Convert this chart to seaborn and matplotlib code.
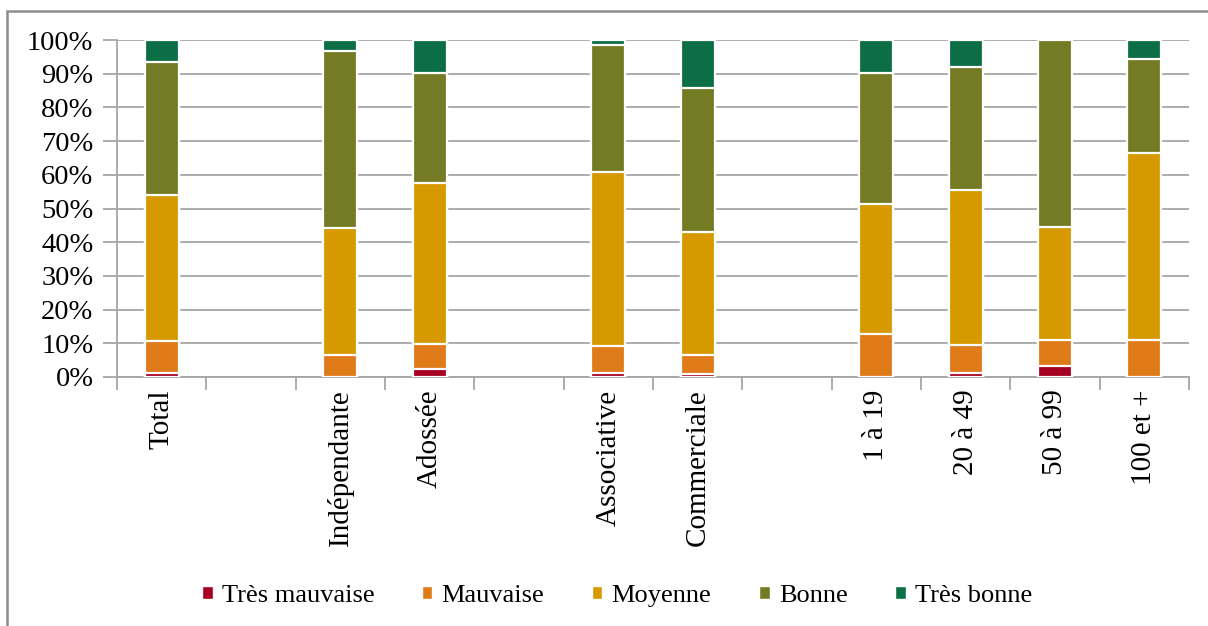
import matplotlib
matplotlib.use("Agg")
import matplotlib.pyplot as plt
from matplotlib.patches import Rectangle, Patch
from matplotlib.ticker import FixedLocator, PercentFormatter
import numpy as np
import pandas as pd
import seaborn as sns

# Categories (blank entries separate the groups on the axis)
categories = ["Total", " ", "Indépendante", "Adossée", "  ",
              "Associative", "Commerciale", "   ",
              "1 à 19", "20 à 49", "50 à 99", "100 et +"]

series = ["Très mauvaise", "Mauvaise", "Moyenne", "Bonne", "Très bonne"]

# Shares in percent, one list per rating, aligned with `categories`
nan = np.nan
tres_mauvaise = [1.3, nan, 0.0, 2.5, nan, 1.2, 1.0, nan, 0.0, 1.3, 3.3, 0.0]
mauvaise      = [9.3, nan, 6.6, 7.2, nan, 8.1, 5.6, nan, 12.9, 8.1, 7.6, 10.9]
moyenne       = [43.3, nan, 37.5, 48.0, nan, 51.4, 36.3, nan, 38.4, 46.0, 33.5, 55.6]
bonne         = [39.7, nan, 52.5, 32.4, nan, 37.8, 43.0, nan, 38.8, 36.7, 55.6, 27.8]
tres_bonne    = [6.4, nan, 3.4, 9.9, nan, 1.5, 14.1, nan, 9.9, 7.9, 0.0, 5.7]

colors = ["#A50021", "#E07B1A", "#D69A00", "#757B25", "#0C6E45"]

values = np.array([tres_mauvaise, mauvaise, moyenne, bonne, tres_bonne]) / 100.0
tops = np.cumsum(values, axis=0)

sns.set_theme(style="white")
plt.rcParams["font.family"] = ["Liberation Serif", "DejaVu Serif"]

fig = plt.figure(figsize=(12.08, 6.26), dpi=100)
ax = fig.add_axes([117 / 1208, 1 - 377 / 626, (1189 - 117) / 1208, (377 - 40) / 626])

# Draw the stacks from the top layer down so each segment covers the next;
# empty segments are left out
for i in range(len(series) - 1, -1, -1):
    top = np.where(values[i] > 0, tops[i], np.nan)
    df = pd.DataFrame({"cat": categories, "top": top})
    sns.barplot(data=df, x="cat", y="top", order=categories, color=colors[i],
                saturation=1, width=0.38, edgecolor="white", linewidth=1.6,
                ax=ax, zorder=3)

ax.set_xlim(-0.5, len(categories) - 0.5)
ax.set_ylim(0, 1.0)
ax.set_xlabel("")
ax.set_ylabel("")

ax.yaxis.set_major_locator(FixedLocator(np.arange(0, 1.01, 0.1)))
ax.yaxis.set_major_formatter(PercentFormatter(1.0, decimals=0))
ax.grid(axis="y", color="#a6a6a6", linewidth=1.3, zorder=0)
ax.set_axisbelow(True)

for s in ["top", "right"]:
    ax.spines[s].set_visible(False)
for s in ["left", "bottom"]:
    ax.spines[s].set_color("#a6a6a6")
    ax.spines[s].set_linewidth(1.3)

# Category labels centred, tick marks on the boundaries
ax.set_xticks(np.arange(len(categories)))
ax.set_xticklabels(categories, rotation=90, fontsize=21, color="black")
ax.tick_params(axis="x", length=0, pad=9)
ax.set_xticks(np.arange(-0.5, len(categories), 1.0), minor=True)
ax.tick_params(axis="x", which="minor", length=9, width=1.3, color="#a6a6a6",
               direction="out", bottom=True)
ax.tick_params(axis="y", labelsize=20.5, labelcolor="black", length=10,
               width=1.3, color="#a6a6a6", direction="out", left=True, pad=7)

handles = [Patch(facecolor=c, edgecolor="white", label=s) for s, c in zip(series, colors)]
leg = fig.legend(handles=handles, loc="center", bbox_to_anchor=(617 / 1208, 1 - 596 / 626),
                 ncol=5, frameon=False, fontsize=19, handlelength=0.4, handleheight=0.4,
                 handletextpad=0.35, columnspacing=1.8)
for t in leg.get_texts():
    t.set_color("black")

# Chart frame
fig.patches.append(Rectangle((7 / 1208, -0.1), 1.2, 1 - 11 / 626 + 0.1,
                             transform=fig.transFigure, fill=False,
                             edgecolor="#8c8c8c", linewidth=1.8))

fig.savefig("out.png", dpi=100)
